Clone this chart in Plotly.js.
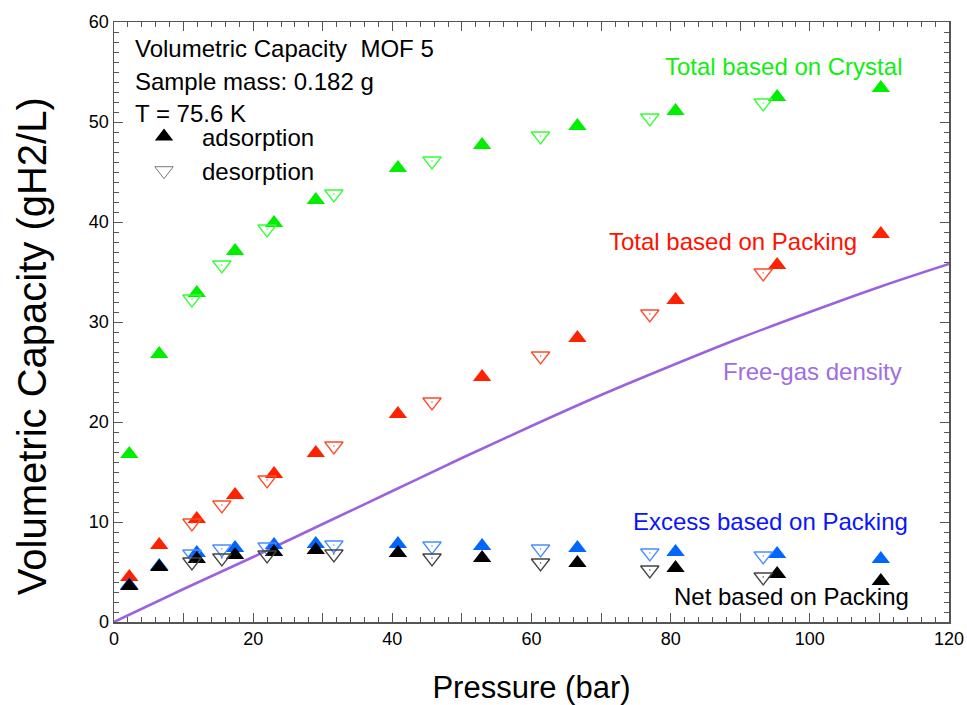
<!DOCTYPE html>
<html><head><meta charset="utf-8">
<script src="https://cdn.plot.ly/plotly-3.0.1.min.js"></script>
<style>html,body{margin:0;padding:0;background:#fff}</style>
</head><body><div id="chart" style="width:967px;height:705px"></div>
<script>
// Adsorption (filled up-triangles)
const adsPressure = [2.2, 6.5, 11.9, 17.4, 23.0, 29.0, 40.8, 52.9, 66.6, 80.7, 95.3, 110.2];
const crystalAds  = [16.8, 26.8, 32.9, 37.1, 39.9, 42.2, 45.4, 47.7, 49.6, 51.1, 52.5, 53.4];
const packingAds  = [4.5, 7.7, 10.3, 12.7, 14.8, 16.9, 20.8, 24.5, 28.4, 32.2, 35.7, 38.8];
const excessAds   = [3.7, 5.6, 6.9, 7.4, 7.7, 7.8, 7.8, 7.6, 7.4, 7.0, 6.8, 6.3];
const netAds      = [3.6, 5.5, 6.3, 6.7, 7.0, 7.2, 6.9, 6.4, 5.9, 5.4, 4.8, 4.1];
// Desorption (open down-triangles)
const desPressure = [11.2, 15.5, 22.0, 31.6, 45.7, 61.3, 77.0, 93.3];
const crystalDes  = [32.3, 35.7, 39.3, 42.8, 46.1, 48.6, 50.4, 51.9];
const packingDes  = [9.9, 11.7, 14.2, 17.6, 22.0, 26.6, 30.8, 34.9];
const excessDes   = [6.8, 7.3, 7.5, 7.7, 7.6, 7.3, 6.9, 6.6];
const netDes      = [6.0, 6.4, 6.7, 6.8, 6.4, 5.9, 5.2, 4.5];
// Free-gas density curve
const gasPressure = [0, 10, 20, 30, 40, 50, 60, 70, 80, 90, 100, 110, 120];
const gasDensity  = [0, 3.3, 6.5, 9.8, 13.1, 16.4, 19.6, 22.7, 25.6, 28.4, 31.0, 33.5, 35.8];
// Axis ticks
const xTickVals = [0, 10, 20, 30, 40, 50, 60, 70, 80, 90, 100, 110, 120];
const xTickText = ['0', '', '20', '', '40', '', '60', '', '80', '', '100', '', '120'];
const yTickVals = [0, 10, 20, 30, 40, 50, 60];

const FONT = 'Arial, "Liberation Sans", sans-serif';
const MS = 16;
function ads(y, color) {
  return {x: adsPressure, y: y, type: 'scatter', mode: 'markers', showlegend: false, hoverinfo: 'skip',
    marker: {symbol: 'triangle-up', size: MS, color: color, line: {width: 0}}};
}
function des(y, color) {
  return [
    {x: desPressure, y: y, type: 'scatter', mode: 'markers', showlegend: false, hoverinfo: 'skip',
     marker: {symbol: 'triangle-down-open', size: MS, color: color, line: {width: 1.3, color: color}}},
    {x: desPressure, y: y, type: 'scatter', mode: 'markers', showlegend: false, hoverinfo: 'skip',
     marker: {symbol: 'circle', size: 1.5, color: color, line: {width: 0}}}
  ];
}
const traces = [
  {x: gasPressure, y: gasDensity, type: 'scatter', mode: 'lines', showlegend: false,
   line: {color: '#9b62dd', width: 2.5, shape: 'spline'}},
  ads(crystalAds, '#00ee00'), ...des(crystalDes, '#33ff33'),
  ads(packingAds, '#ff2200'), ...des(packingDes, '#ff4a2a'),
  ads(excessAds, '#0066ff'), ...des(excessDes, '#4a8cff'),
  ads(netAds, '#000000'), ...des(netDes, '#444444'),
  {x: [null], y: [null], type: 'scatter', mode: 'markers', name: 'adsorption',
   marker: {symbol: 'triangle-up', size: MS, color: '#000'}},
  {x: [null], y: [null], type: 'scatter', mode: 'markers', name: 'desorption',
   marker: {symbol: 'triangle-down-open', size: MS, color: '#777', line: {width: 1}}}
];

function ann(text, x, y, color, xanchor) {
  return {text: text, x: x, y: y, xref: 'x', yref: 'y', showarrow: false, xanchor: xanchor, yanchor: 'middle',
    font: {family: FONT, size: 24, color: color}};
}
const annotations = [
  ann('Volumetric Capacity  MOF 5', 2.7, 57.4, '#000', 'left'),
  ann('Sample mass: 0.182 g', 2.7, 54.1, '#000', 'left'),
  ann('T = 75.6 K', 2.7, 50.9, '#000', 'left'),
  ann('Total based on Crystal', 113.5, 55.6, '#11ee11', 'right'),
  ann('Total based on Packing', 107.1, 38.1, '#ff1100', 'right'),
  ann('Free-gas density', 113.5, 25.1, '#a06ee0', 'right'),
  ann('Excess based on Packing', 114.4, 10.1, '#0a14ff', 'right'),
  ann('Net based on Packing', 114.5, 2.6, '#000', 'right'),
  {text: 'Volumetric Capacity (gH2/L)', textangle: -90, xref: 'paper', yref: 'y',
   x: -0.098, y: 27.6, xanchor: 'center', yanchor: 'middle', showarrow: false,
   font: {family: FONT, size: 40, color: '#000'}}
];

const layout = {
  width: 967, height: 705,
  margin: {l: 114, r: 18, t: 22, b: 83},
  paper_bgcolor: '#fff', plot_bgcolor: '#fff',
  font: {family: FONT, color: '#000'},
  xaxis: {range: [0, 120], tickvals: xTickVals, ticktext: xTickText,
    ticks: 'inside', ticklen: 9, tickcolor: '#555', tickwidth: 1,
    minor: {dtick: 2, ticks: 'inside', ticklen: 5, tickcolor: '#555'},
    showline: true, linecolor: '#555', linewidth: 1.5, mirror: 'allticks',
    showgrid: false, zeroline: false,
    tickfont: {family: FONT, size: 18, color: '#000'},
    title: {text: 'Pressure (bar)', font: {family: FONT, size: 31, color: '#000'}, standoff: 31}},
  yaxis: {range: [0, 60], tickvals: yTickVals,
    ticks: 'inside', ticklen: 9, tickcolor: '#555', tickwidth: 1,
    minor: {dtick: 1, ticks: 'inside', ticklen: 5, tickcolor: '#555'},
    showline: true, linecolor: '#555', linewidth: 1.5, mirror: 'allticks',
    showgrid: false, zeroline: false,
    tickfont: {family: FONT, size: 18, color: '#000'}},
  showlegend: true,
  legend: {x: 0.0144, y: 0.846, xanchor: 'left', yanchor: 'top', bgcolor: 'rgba(0,0,0,0)',
    font: {family: FONT, size: 24, color: '#000'}, itemwidth: 66, tracegroupgap: 0},
  annotations: annotations
};
Plotly.newPlot('chart', traces, layout, {staticPlot: true, displayModeBar: false});
</script></body></html>
